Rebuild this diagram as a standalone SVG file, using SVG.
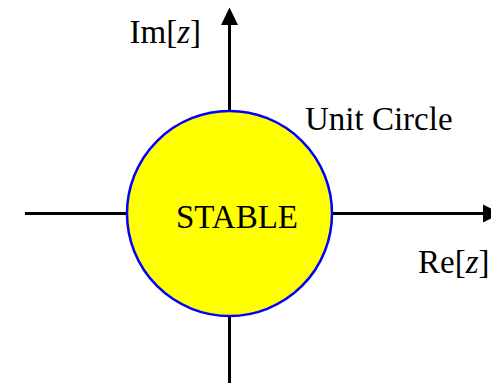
<svg xmlns="http://www.w3.org/2000/svg" width="491" height="383" viewBox="0 0 491 383">
<style>
.ax{stroke:#000;stroke-width:3;fill:none}
.ah{fill:#000;stroke:none}
.t{font-family:"Liberation Serif","Times New Roman",serif;font-size:33px;fill:#000}
.i{font-style:italic}
</style>
<rect width="491" height="383" fill="#fff"/>
<g id="connectors">
<line class="ax" x1="25" y1="213.5" x2="485" y2="213.5"/>
<polygon class="ah" points="483,204.5 501,213.5 483,222.5"/>
<line class="ax" x1="229.5" y1="383" x2="229.5" y2="24"/>
<polygon class="ah" points="221,25 229.5,7.5 238,25"/>
</g>
<g id="unit-circle">
<circle cx="229.5" cy="213.5" r="102.5" fill="#ffff00" stroke="#0000ff" stroke-width="2.5"/>
<text class="t" x="176" y="228">STABLE</text>
</g>
<g id="label-im">
<text class="t" x="129.5" y="43">Im[<tspan class="i">z</tspan>]</text>
</g>
<g id="label-unit">
<text class="t" x="305" y="130">Unit Circle</text>
</g>
<g id="label-re">
<text class="t" x="418" y="273">Re[<tspan class="i">z</tspan>]</text>
</g>
</svg>
